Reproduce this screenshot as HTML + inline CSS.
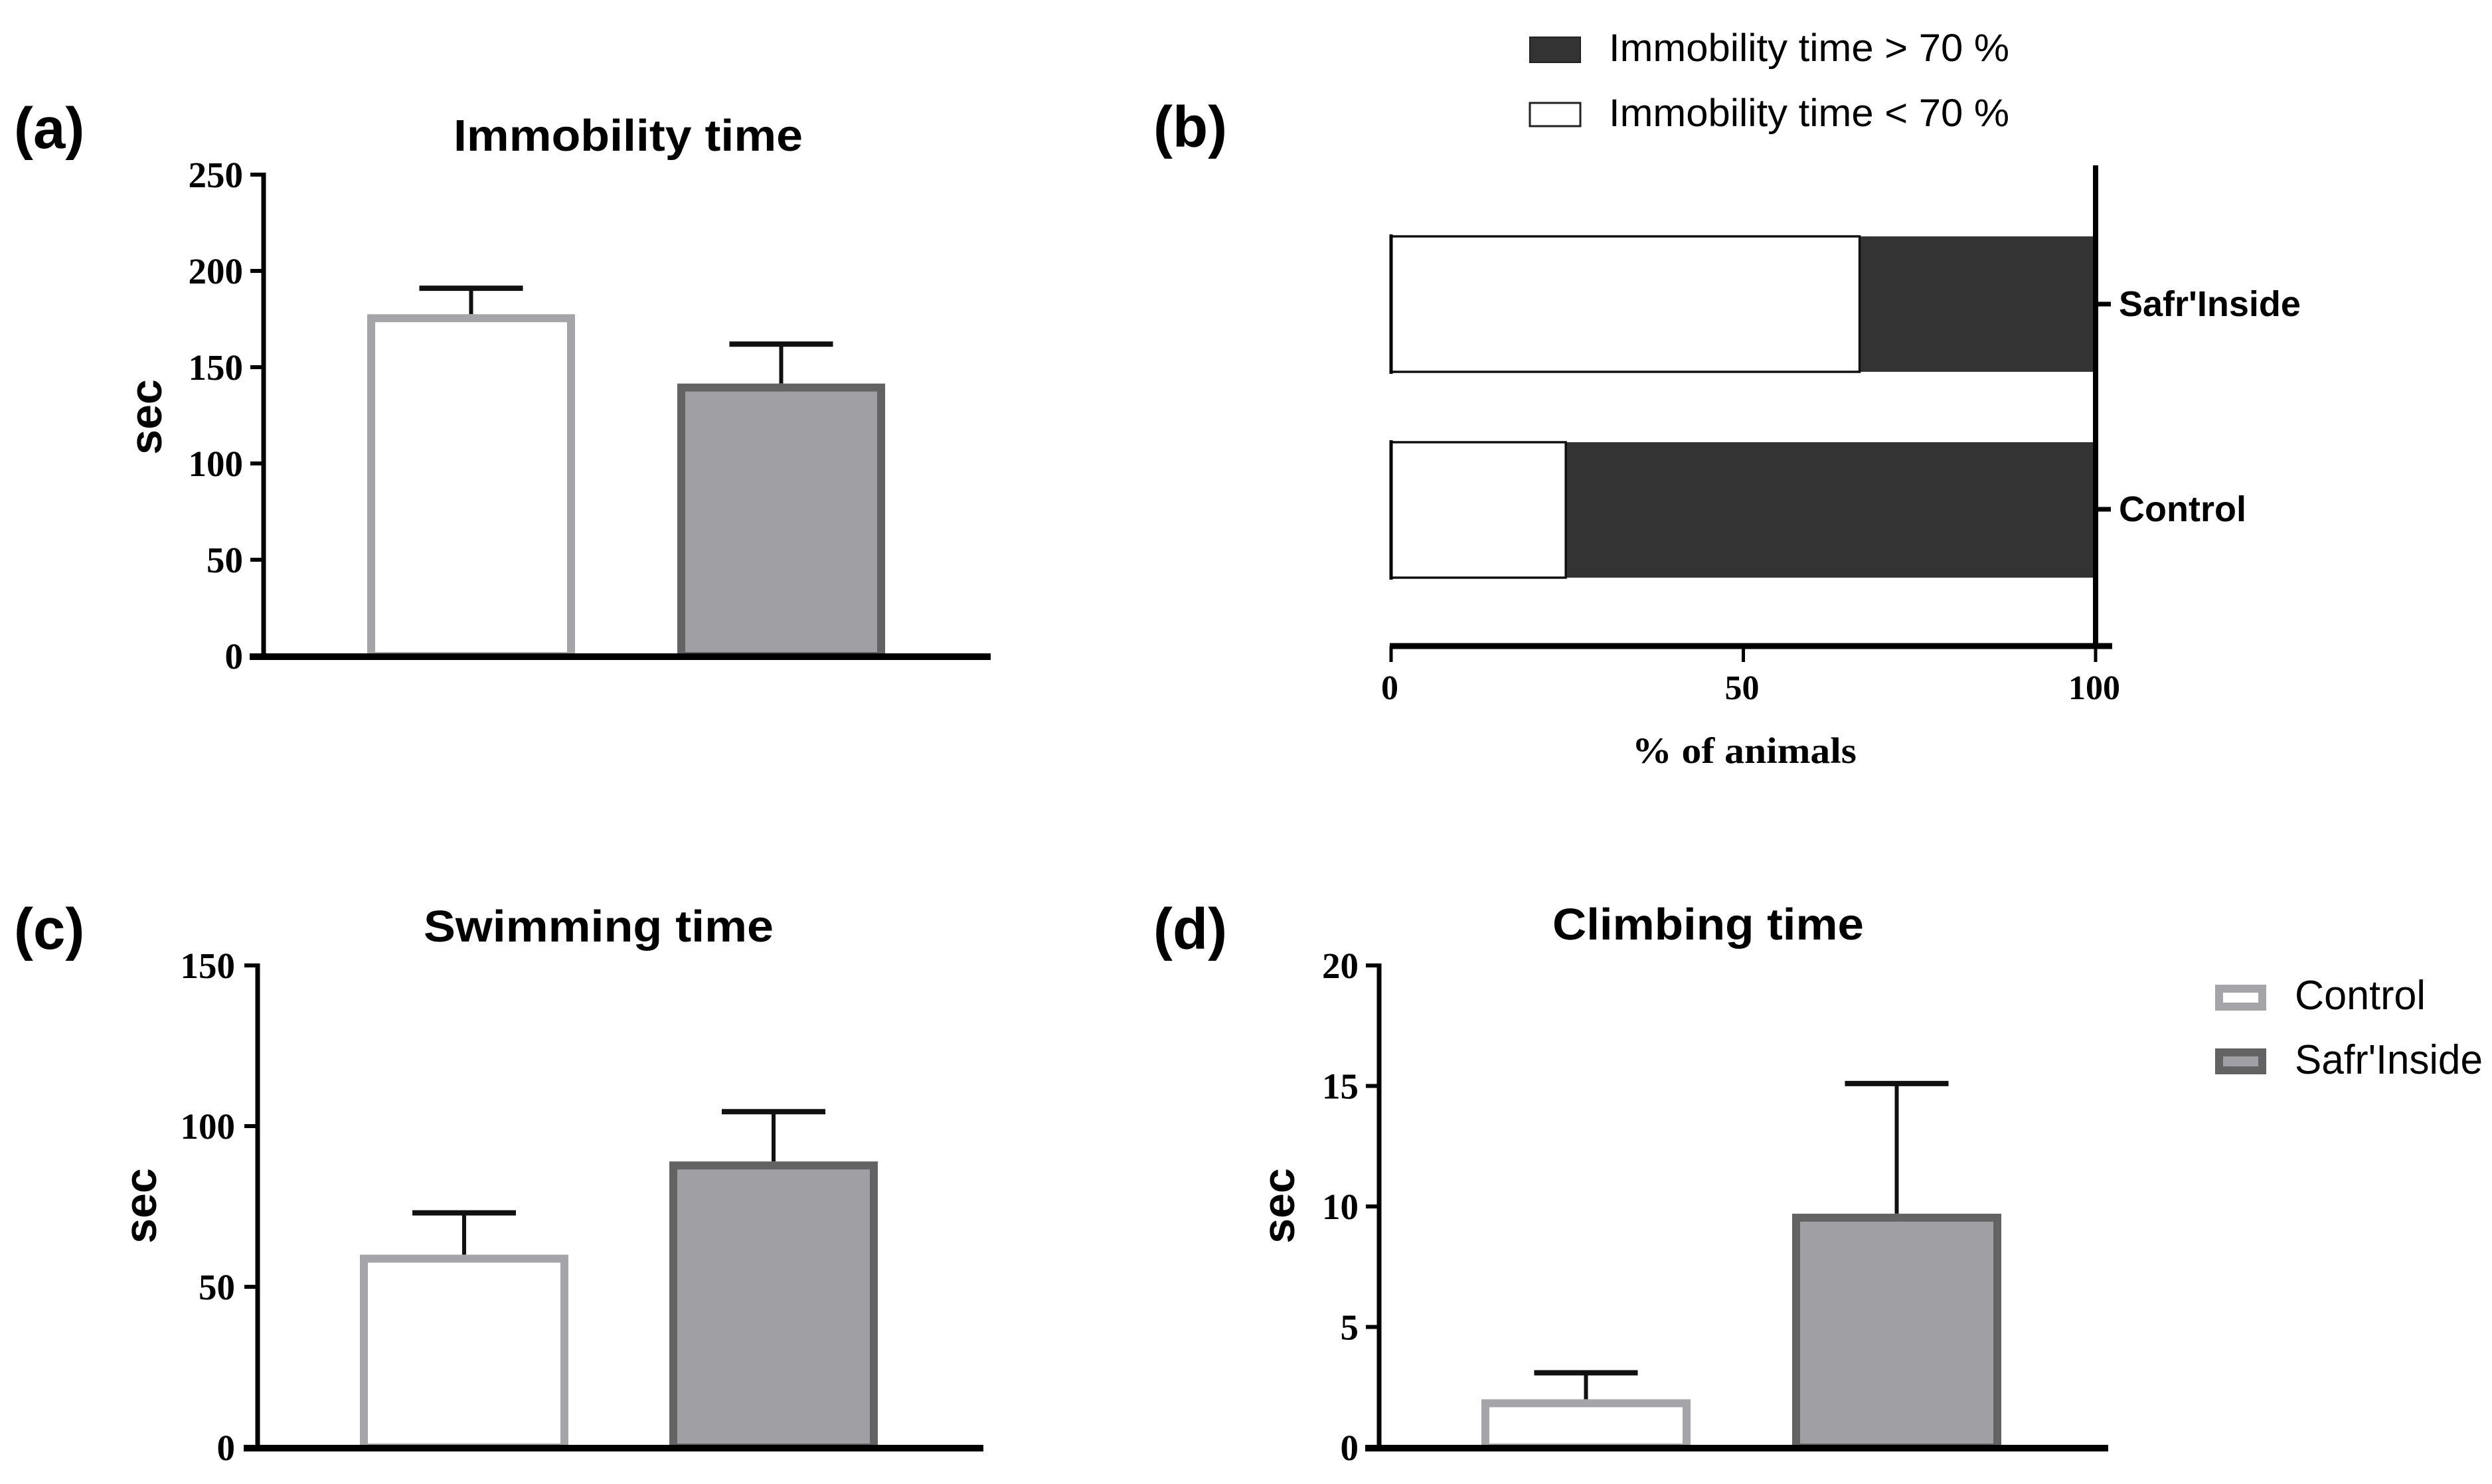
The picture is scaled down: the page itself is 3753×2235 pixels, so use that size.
<!DOCTYPE html>
<html lang="en">
<head>
<meta charset="utf-8">
<title>Immobility, swimming and climbing time</title>
<style>
html,body{margin:0;padding:0;background:#fff;}
svg{display:block;}
.sans{font-family:"Liberation Sans",Arial,sans-serif;}
.serif{font-family:"Liberation Serif","Times New Roman",serif;font-weight:bold;}
.bold{font-weight:bold;}
</style>
</head>
<body>
<svg id="figure" xmlns="http://www.w3.org/2000/svg" width="3753" height="2235" viewBox="0 0 3753 2235">
  <rect x="0" y="0" width="3753" height="2235" fill="#ffffff"/>

  <text class="sans bold" x="21" y="223" font-size="87">(a)</text>
  <text class="sans bold" x="1737" y="221" font-size="87">(b)</text>
  <text class="sans bold" x="21" y="1429" font-size="87">(c)</text>
  <text class="sans bold" x="1737" y="1429" font-size="87">(d)</text>

  <text class="sans bold" x="683" y="227" font-size="67" textLength="526" lengthAdjust="spacingAndGlyphs">Immobility time</text>
  <text class="sans bold" x="638" y="1418" font-size="67" textLength="527" lengthAdjust="spacingAndGlyphs">Swimming time</text>
  <text class="sans bold" x="2338" y="1415" font-size="67" textLength="469" lengthAdjust="spacingAndGlyphs">Climbing time</text>

  <text class="sans bold" transform="translate(243,628) rotate(-90)" text-anchor="middle" font-size="68">sec</text>
  <text class="sans bold" transform="translate(235,1816) rotate(-90)" text-anchor="middle" font-size="68">sec</text>
  <text class="sans bold" transform="translate(1949,1816) rotate(-90)" text-anchor="middle" font-size="68">sec</text>

  <text class="serif" x="2458" y="1149" font-size="55" textLength="338" lengthAdjust="spacingAndGlyphs">% of animals</text>

  <rect x="2304" y="56" width="76" height="38" fill="#333333" stroke="#222222" stroke-width="2"/>
  <text class="sans" x="2423" y="92" font-size="58" textLength="603" lengthAdjust="spacingAndGlyphs">Immobility time &gt; 70 %</text>
  <rect x="2304" y="155" width="76" height="35" fill="#ffffff" stroke="#222222" stroke-width="3"/>
  <text class="sans" x="2423" y="190" font-size="58" textLength="603" lengthAdjust="spacingAndGlyphs">Immobility time &lt; 70 %</text>

  <rect x="3342" y="1489" width="65" height="27" fill="#ffffff" stroke="#a5a4a8" stroke-width="12"/>
  <text class="sans" x="3456" y="1520" font-size="62" textLength="197" lengthAdjust="spacingAndGlyphs">Control</text>
  <rect x="3342" y="1585" width="65" height="27" fill="#a09fa3" stroke="#636363" stroke-width="12"/>
  <text class="sans" x="3456" y="1617" font-size="62" textLength="283" lengthAdjust="spacingAndGlyphs">Safr'Inside</text>
</svg>

<script>
// ---- chart data ----
const groupNames = ["Control", "Safr'Inside"];

const immobilityMeans = [177.5, 141.5];
const immobilityUpper = [191, 162];
const immobilityTicks = [0, 50, 100, 150, 200, 250];

const swimmingMeans = [60, 89];
const swimmingUpper = [73, 104.5];
const swimmingTicks = [0, 50, 100, 150];

const climbingMeans = [2.0, 9.7];
const climbingUpper = [3.1, 15.1];
const climbingTicks = [0, 5, 10, 15, 20];

const stackCategories = ["Safr'Inside", "Control"];
const stackBelow70 = [66.5, 24.8];
const stackAbove70 = [33.5, 75.2];
const stackTicks = [0, 50, 100];

// ---- drawing ----
const svg = document.getElementById('figure');
const NS = 'http://www.w3.org/2000/svg';

function mk(tag, props, text) {
  const el = document.createElementNS(NS, tag);
  for (const k in props) el.setAttribute(k, props[k]);
  if (text !== undefined) el.textContent = text;
  svg.appendChild(el);
  return el;
}

function linearScale(d0, d1, r0, r1) {
  return function (v) { return r0 + (v - d0) / (d1 - d0) * (r1 - r0); };
}

const barStyles = [
  { fill: '#ffffff', stroke: '#a5a4a8' },
  { fill: '#a09fa3', stroke: '#636363' }
];

function drawBarPanel(prefix, means, upper, ticks, box) {
  const maxTick = ticks[ticks.length - 1];
  const y = linearScale(0, maxTick, box.bottom, box.top);

  means.forEach(function (value, i) {
    const left = box.barLefts[i];
    const center = left + box.barWidth / 2;
    const sw = 12;

    const stem = mk('line', { x1: center, x2: center, y1: y(upper[i]), y2: y(value), stroke: '#111111', 'stroke-width': 6 });
    
    

    const cap = mk('line', { x1: center - 78, x2: center + 78, y1: y(upper[i]), y2: y(upper[i]), stroke: '#111111', 'stroke-width': 8 });
    
    

    const bar = mk('rect', {
      x: left + sw / 2,
      y: y(value) + sw / 2,
      width: box.barWidth - sw,
      height: box.bottom - y(value) - sw / 2,
      fill: barStyles[i].fill,
      stroke: barStyles[i].stroke,
      'stroke-width': sw
    });
    
    
  });

  const yAxis = mk('line', { x1: box.axisX, x2: box.axisX, y1: box.top - 3, y2: box.bottom, stroke: '#000000', 'stroke-width': 7 });
  
  

  const xAxis = mk('line', { x1: box.xStart, x2: box.xEnd, y1: box.bottom + 1, y2: box.bottom + 1, stroke: '#000000', 'stroke-width': 10 });
  
  

  ticks.forEach(function (t) {
    const mark = mk('line', { x1: box.axisX - 20, x2: box.axisX, y1: y(t), y2: y(t), stroke: '#000000', 'stroke-width': 6 });
    
    

    const label = mk('text', { x: box.labelRight, y: y(t) + 19, 'text-anchor': 'end', 'font-size': 55, 'class': 'serif' }, String(t));
    
    
  });
}

function drawStackPanel() {
  const x0 = 2095, x100 = 3156, axisY = 973;
  const x = linearScale(0, 100, x0, x100);
  const bands = [{ top: 356, bottom: 560, tick: 458 }, { top: 666, bottom: 870, tick: 767 }];

  stackCategories.forEach(function (cat, i) {
    const b = bands[i];
    const slug = cat.toLowerCase().replace(/[^a-z]/g, '');

    const dark = mk('rect', {
      x: x(stackBelow70[i]), y: b.top,
      width: x(stackBelow70[i] + stackAbove70[i]) - x(stackBelow70[i]),
      height: b.bottom - b.top, fill: '#333333'
    });
    
    

    const light = mk('rect', {
      x: x(0), y: b.top,
      width: x(stackBelow70[i]) - x(0),
      height: b.bottom - b.top, fill: '#ffffff', stroke: '#111111', 'stroke-width': 3.5
    });
    
    

    const edge = mk('line', { x1: x(0), x2: x(0), y1: b.top - 3, y2: b.bottom + 3, stroke: '#000000', 'stroke-width': 5 });
    
    

    const mark = mk('line', { x1: x100, x2: x100 + 23, y1: b.tick, y2: b.tick, stroke: '#000000', 'stroke-width': 7 });
    
    

    const label = mk('text', { x: 3191, y: b.tick + 18, 'font-size': 54, 'class': 'sans bold' }, cat);
    
    
  });

  const vAxis = mk('line', { x1: x100, x2: x100, y1: 249, y2: axisY, stroke: '#000000', 'stroke-width': 8 });
  
  

  const hAxis = mk('line', { x1: x0 - 2, x2: 3181, y1: axisY, y2: axisY, stroke: '#000000', 'stroke-width': 9 });
  
  

  stackTicks.forEach(function (t) {
    const mark = mk('line', { x1: x(t), x2: x(t), y1: axisY, y2: 997, stroke: '#000000', 'stroke-width': 5 });
    
    

    const label = mk('text', { x: x(t) - 2, y: 1053, 'text-anchor': 'middle', 'font-size': 52, 'class': 'serif' }, String(t));
    
    
  });
}

drawBarPanel('immobility', immobilityMeans, immobilityUpper, immobilityTicks, {
  top: 263, bottom: 988, axisX: 397, xStart: 376, xEnd: 1492, labelRight: 366, barLefts: [553, 1020], barWidth: 313
});
drawBarPanel('swimming', swimmingMeans, swimmingUpper, swimmingTicks, {
  top: 1454, bottom: 2180, axisX: 388, xStart: 367, xEnd: 1481, labelRight: 354, barLefts: [542, 1008], barWidth: 314
});
drawBarPanel('climbing', climbingMeans, climbingUpper, climbingTicks, {
  top: 1454, bottom: 2180, axisX: 2077, xStart: 2056, xEnd: 3175, labelRight: 2046, barLefts: [2231, 2699], barWidth: 315
});
drawStackPanel();
</script>
</body>
</html>
